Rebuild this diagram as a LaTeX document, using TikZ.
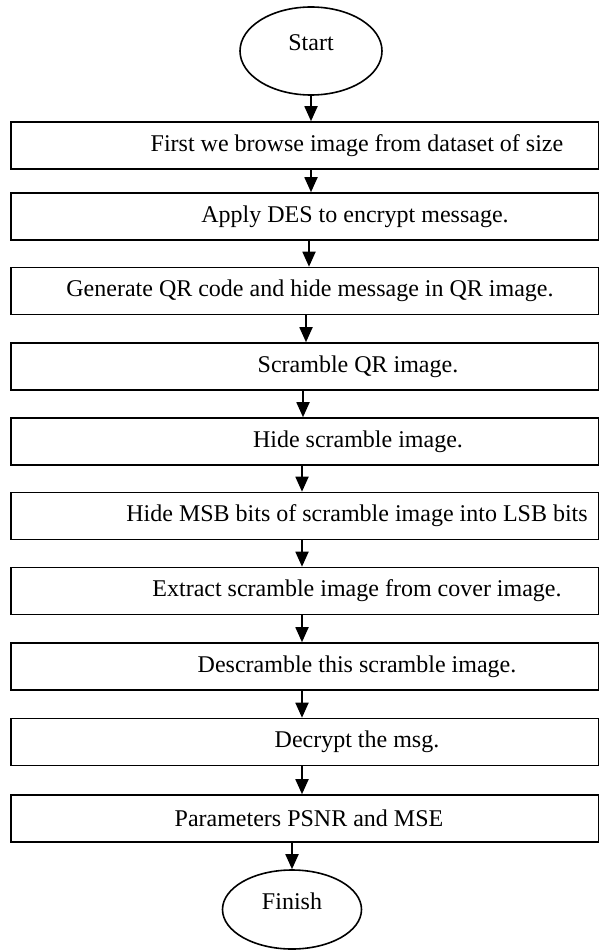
\documentclass[tikz,border=0pt]{standalone}
\usepackage{fontspec}
\setmainfont{Liberation Serif}
\usetikzlibrary{shapes.geometric,arrows.meta}
\begin{document}
\begin{tikzpicture}[x=1pt,y=-1pt,
  every node/.style={font=\fontsize{24}{28}\selectfont},
  stepbox/.style={draw,line width=1.6pt,minimum width=588pt,minimum height=47pt,inner sep=0pt},
  terminal/.style={draw,ellipse,line width=1.6pt,inner sep=0pt,text height=16pt,text depth=16pt},
  flow/.style={line width=1.8pt,-{Triangle[width=13pt,length=15pt]}}]
\useasboundingbox (0,0) rectangle (598,950);
\fill[white] (0,0) rectangle (598,950);
% terminals
\node[terminal,minimum width=142pt,minimum height=88pt] (start) at (311,51) {Start};
\node[terminal,minimum width=139pt,minimum height=79pt,text height=12pt,text depth=12pt] (finish) at (292,909.5) {Finish};
% process steps
\node[stepbox] (b1)  at (305,145.5) {\hspace*{104pt}First we browse image from dataset of size};
\node[stepbox] (b2)  at (305,216.5) {\hspace*{100pt}Apply DES to encrypt message.};
\node[stepbox] (b3)  at (305,291)   {\hspace*{10pt}Generate QR code and hide message in QR image.};
\node[stepbox] (b4)  at (305,366.5) {\hspace*{106pt}Scramble QR image.};
\node[stepbox] (b5)  at (305,441.5) {\hspace*{106pt}Hide scramble image.};
\node[stepbox] (b6)  at (305,516)   {\hspace*{104pt}Hide MSB bits of scramble image into LSB bits};
\node[stepbox] (b7)  at (305,591)   {\hspace*{104pt}Extract scramble image from cover image.};
\node[stepbox] (b8)  at (305,666.5) {\hspace*{104pt}Descramble this scramble image.};
\node[stepbox] (b9)  at (305,742)   {\hspace*{104pt}Decrypt the msg.};
\node[stepbox] (b10) at (305,818.5) {\hspace*{8pt}Parameters PSNR and MSE};
% connectors
\draw[flow] (start.south) -- ([xshift=6pt]b1.north);
\draw[flow] ([xshift=6pt]b1.south) -- ([xshift=6pt]b2.north);
\draw[flow] ([xshift=4pt]b2.south) -- ([xshift=4pt]b3.north);
\draw[flow] ([xshift=1pt]b3.south) -- ([xshift=1pt]b4.north);
\draw[flow] ([xshift=-2pt]b4.south) -- ([xshift=-2pt]b5.north);
\draw[flow] ([xshift=-3pt]b5.south) -- ([xshift=-3pt]b6.north);
\draw[flow] ([xshift=-3pt]b6.south) -- ([xshift=-3pt]b7.north);
\draw[flow] ([xshift=-3pt]b7.south) -- ([xshift=-3pt]b8.north);
\draw[flow] ([xshift=-3pt]b8.south) -- ([xshift=-3pt]b9.north);
\draw[flow] ([xshift=-3pt]b9.south) -- ([xshift=-3pt]b10.north);
\draw[flow] (b10.south -| finish.north) -- (finish.north);
\end{tikzpicture}
\end{document}
